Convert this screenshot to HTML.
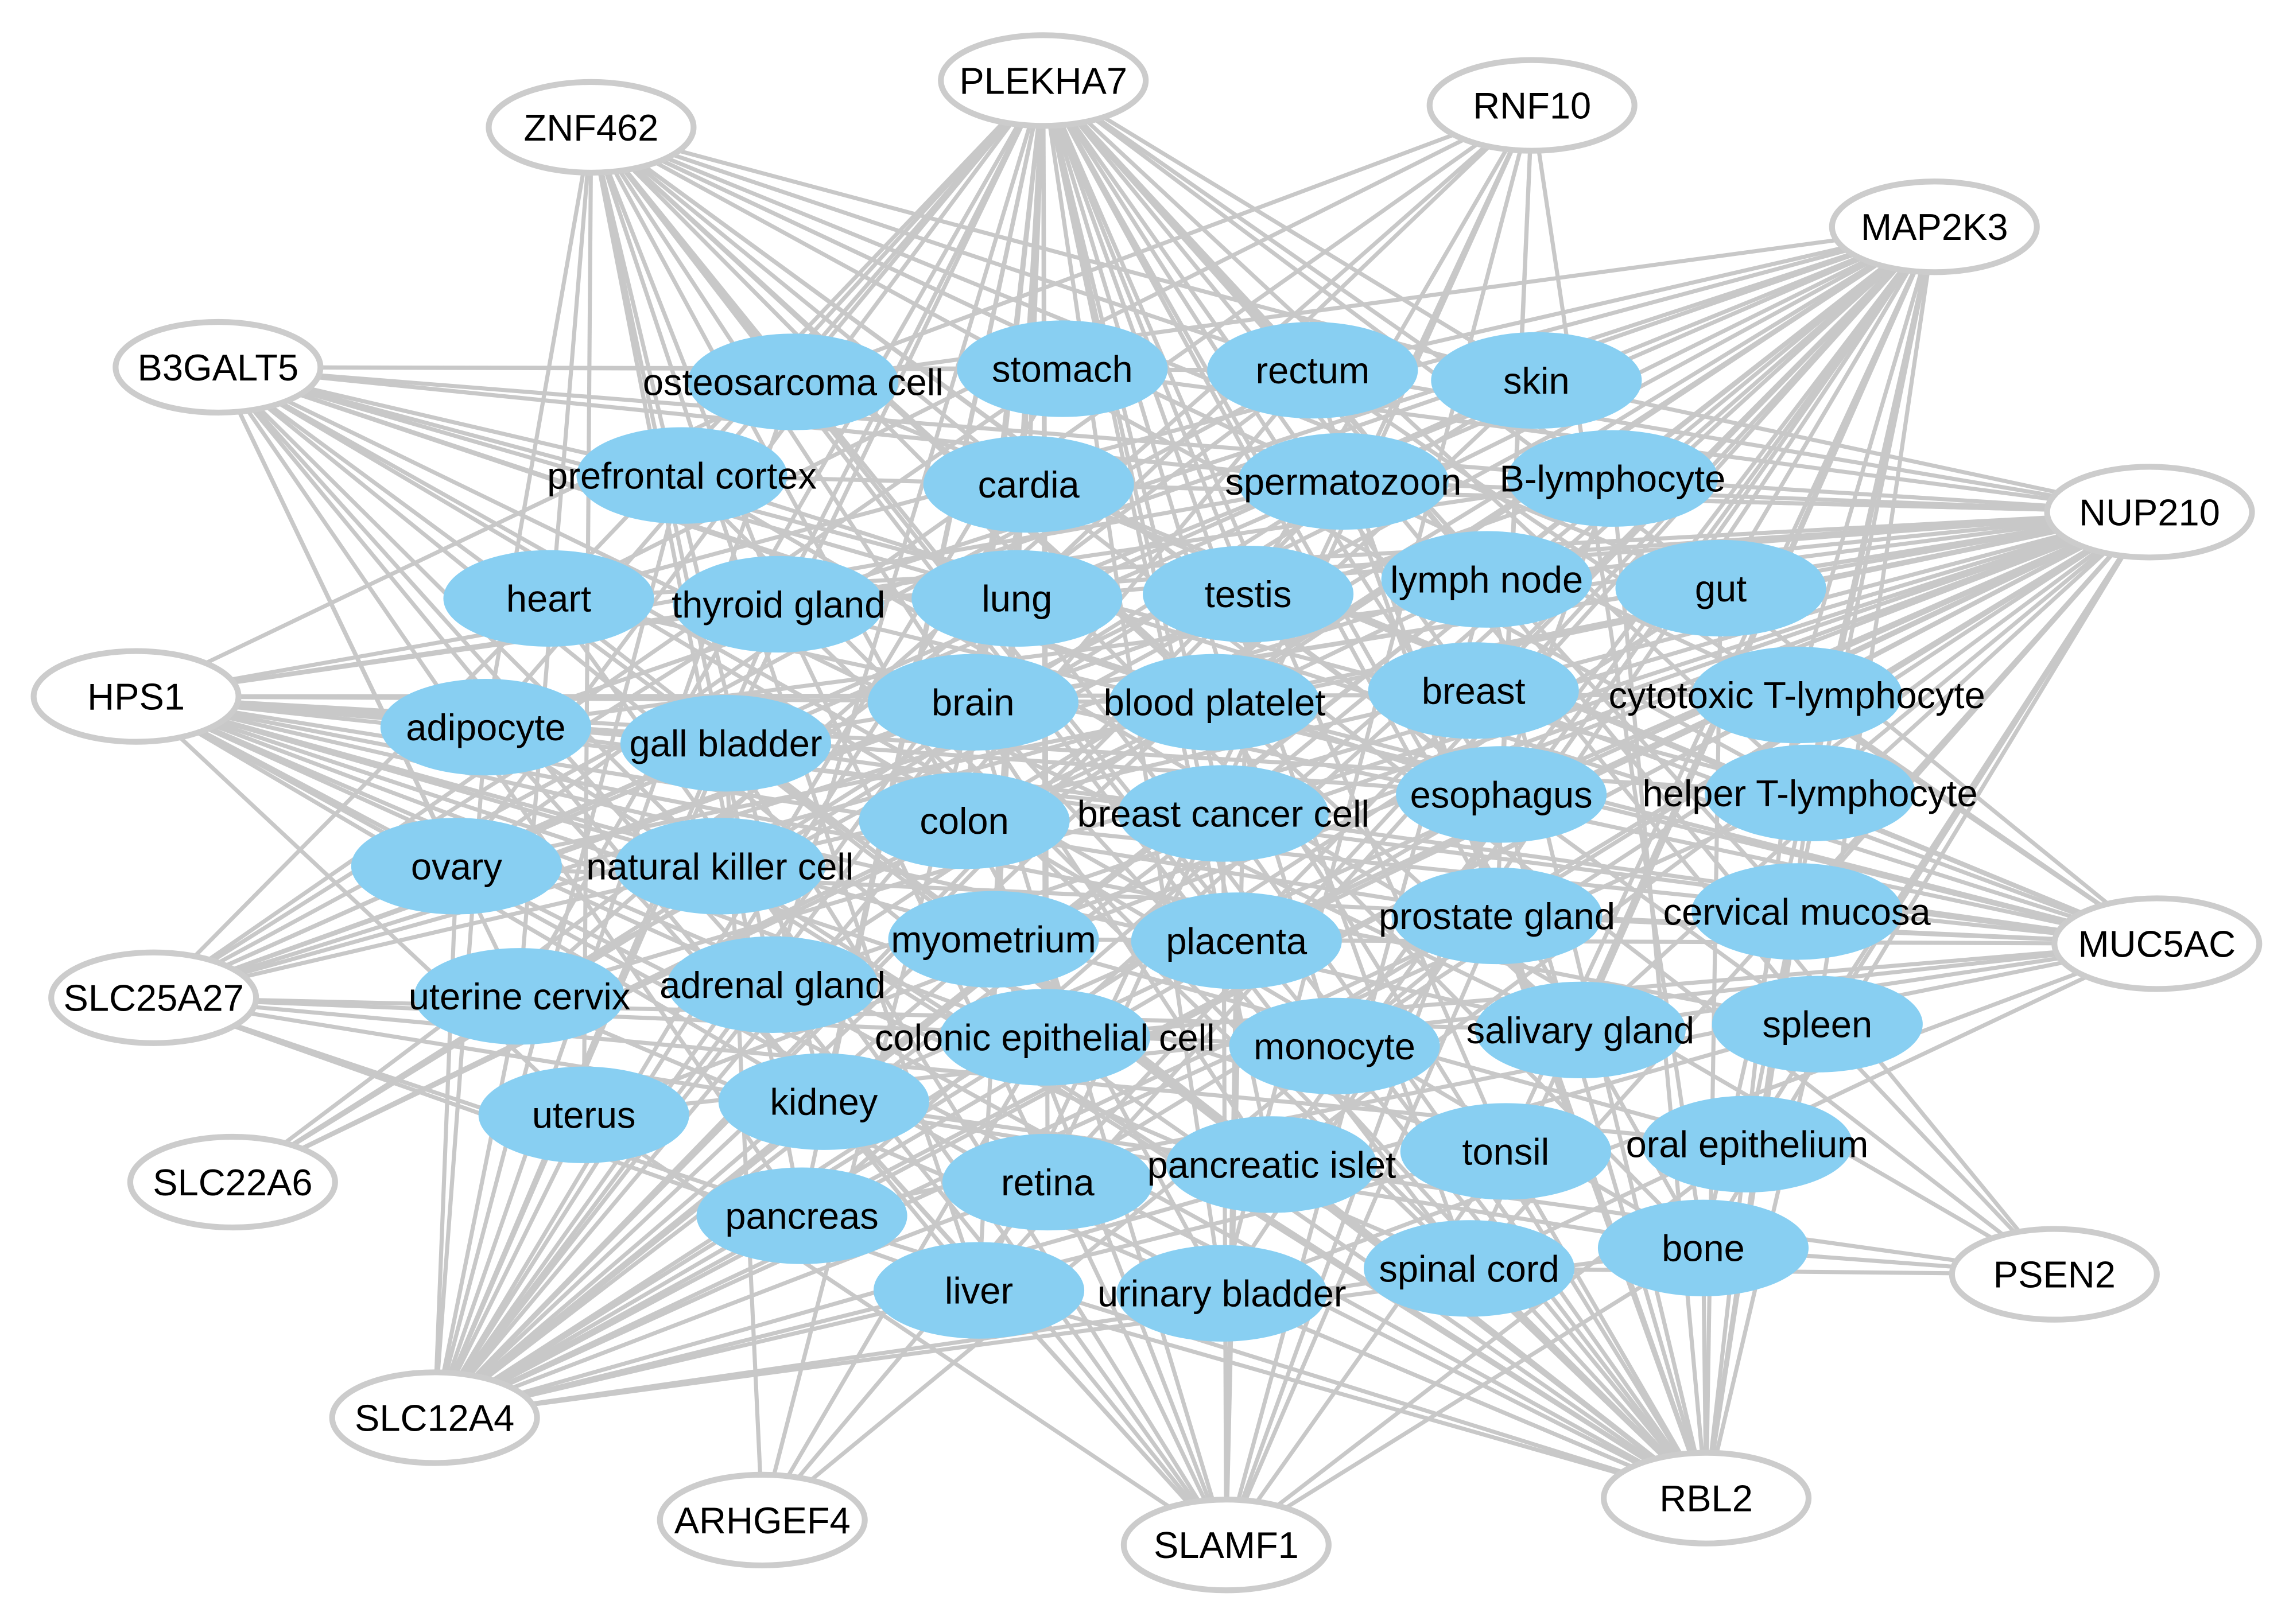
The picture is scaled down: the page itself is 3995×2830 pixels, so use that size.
<!DOCTYPE html>
<html><head><meta charset="utf-8"><style>html,body{margin:0;padding:0;background:#fff}svg{display:block}</style></head>
<body>
<svg id="s" xmlns="http://www.w3.org/2000/svg" width="3995" height="2830" viewBox="0 0 1560 1105">
<rect width="1560" height="1105" fill="#fff"/>
<g transform="scale(0.9955)">
<g id="edges" stroke="#c8c8c8" stroke-width="2.8"></g>
<g id="nodes" font-family="Liberation Sans, Arial, sans-serif" font-size="25.5" text-anchor="middle"></g>
</g>
</svg>
<script>
var genes=[["ZNF462",404,87],["PLEKHA7",713,55],["RNF10",1047,72],["MAP2K3",1322,155],["B3GALT5",149,251],["NUP210",1469,350],["HPS1",93,476],["MUC5AC",1474,645],["SLC25A27",105,682],["SLC22A6",159,808],["PSEN2",1404,871],["SLC12A4",297,969],["ARHGEF4",521,1039],["SLAMF1",838,1056],["RBL2",1166,1024]];
var dens=[0.6,0.8,0.2,0.85,0.35,0.9,0.6,0.6,0.3,0.1,0.2,0.75,0.1,0.3,0.7];
var t=[["osteosarcoma cell",542,261],["stomach",726,252],["rectum",897,253],["skin",1050,260],["prefrontal cortex",466,325],["cardia",703,331],["spermatozoon",918,329],["B-lymphocyte",1102,327],["heart",375,409],["thyroid gland",532,413],["lung",695,409],["testis",853,406],["lymph node",1016,396],["gut",1176,402],["adipocyte",332,497],["gall bladder",496,508],["brain",665,480],["blood platelet",830,480],["breast",1007,472],["cytotoxic T-lymphocyte",1228,475],["colon",659,561],["breast cancer cell",836,556],["esophagus",1026,543],["helper T-lymphocyte",1237,542],["ovary",312,592],["natural killer cell",492,592],["myometrium",679,642],["placenta",845,643],["prostate gland",1023,626],["cervical mucosa",1228,623],["uterine cervix",355,681],["adrenal gland",528,673],["colonic epithelial cell",714,709],["monocyte",912,715],["salivary gland",1080,704],["spleen",1242,700],["uterus",399,762],["kidney",563,753],["retina",716,808],["pancreatic islet",869,796],["tonsil",1029,787],["oral epithelium",1194,782],["pancreas",548,831],["liver",669,882],["urinary bladder",835,884],["spinal cord",1004,867],["bone",1164,853]];
var seed=7;function r(){seed=(seed*16807)%2147483647;return seed/2147483647;}
var E=document.getElementById("edges"),N=document.getElementById("nodes"),ns="http://www.w3.org/2000/svg";
function el(n,a,p){var e=document.createElementNS(ns,n);for(var k in a)e.setAttribute(k,a[k]);p.appendChild(e);return e;}
genes.forEach(function(g,i){t.forEach(function(x){if(r()<dens[i])el("line",{x1:g[1],y1:g[2],x2:x[1],y2:x[2]},E);});});
genes.forEach(function(g){el("ellipse",{cx:g[1],cy:g[2],rx:70,ry:31,fill:"#fff",stroke:"#cccccc","stroke-width":4},N);var tx=el("text",{x:g[1],y:g[2]+9},N);tx.textContent=g[0];});
t.forEach(function(x){el("ellipse",{cx:x[1],cy:x[2],rx:72,ry:33,fill:"#88cff2"},N);});
t.forEach(function(x){var tx=el("text",{x:x[1],y:x[2]+9},N);tx.textContent=x[0];});
</script>
</body></html>
